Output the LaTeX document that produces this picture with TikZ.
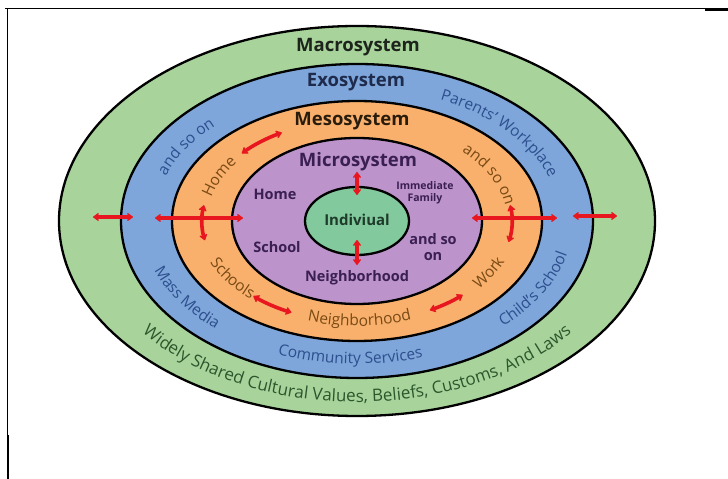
\documentclass[tikz,border=0pt]{standalone}
\usepackage{fontspec}
\setmainfont{Open Sans}
\usetikzlibrary{arrows.meta,decorations.text}
% ring fills
\definecolor{macroC}{HTML}{A8D49C}
\definecolor{exoC}{HTML}{7EA6DA}
\definecolor{mesoC}{HTML}{F8B06C}
\definecolor{microC}{HTML}{BC93CB}
\definecolor{indivC}{HTML}{82C99E}
% text colours
\definecolor{macroT}{HTML}{1C241C}
\definecolor{exoT}{HTML}{1E2B4C}
\definecolor{mesoT}{HTML}{2A1C0C}
\definecolor{microT}{HTML}{3A1F52}
\definecolor{indivT}{HTML}{1E3B2A}
\definecolor{exoLbl}{HTML}{2D4F8E}
\definecolor{mesoLbl}{HTML}{7A4A14}
\definecolor{macroLbl}{HTML}{2C562C}
\definecolor{arrowC}{HTML}{E8161E}
\newcommand{\bandfont}{\fontsize{15.5}{16}\selectfont}
\begin{document}
\begin{tikzpicture}[x=1pt,y=1pt,
  ring/.style={draw=black, line width=2.3pt},
  title/.style={font=\bfseries\fontsize{18.5}{19}\selectfont},
  innerlbl/.style={font=\bfseries\fontsize{14.5}{15}\selectfont, text=microT, align=center},
  link/.style={draw=arrowC, line width=3.6pt,
    {Stealth[round,length=7pt,width=10pt]}-{Stealth[round,length=7pt,width=10pt]}},
  curvelbl/.style={decorate, decoration={text along path, text align=center, text={#1}}},
]
\useasboundingbox (0,0) rectangle (728,479);

% page frame
\draw[line width=1pt] (5,470) -- (728,470);
\draw[line width=2.5pt] (705,469.5) -- (728,469.5);
\draw[line width=1pt] (7,470) -- (7,0);
\draw[line width=2pt] (7.5,44) -- (7.5,0);

% concentric systems
\coordinate (C) at (357,258);
\draw[ring, fill=macroC] (C) ellipse[x radius=298pt, y radius=195pt];
\draw[ring, fill=exoC]   (C) ellipse[x radius=236pt, y radius=157pt];
\draw[ring, fill=mesoC]  (C) ellipse[x radius=185pt, y radius=120pt];
\draw[ring, fill=microC] (C) ellipse[x radius=125pt, y radius=83pt];
\draw[ring, fill=indivC] (C) ellipse[x radius=52pt, y radius=34pt];

% system titles
\node[title, text=macroT] (macro) at (358,432) {Macrosystem};
\node[title, text=exoT]   (exo)   at (356,397) {Exosystem};
\node[title, text=mesoT]  (meso)  at (352,358) {Mesosystem};
\node[title, text=microT] (micro) at (358,317) {Microsystem};

% microsystem contents
\node[innerlbl] (mHome)   at (275,285) {Home};
\node[innerlbl] (mSchool) at (277,232) {School};
\node[innerlbl, font=\bfseries\fontsize{10.5}{12.5}\selectfont] (mFamily) at (425,286) {Immediate\\Family};
\node[innerlbl, font=\bfseries\fontsize{14.5}{15.5}\selectfont] (mMore) at (433,232) {and so\\on};
\node[innerlbl] (mNeigh)  at (357,201) {Neighborhood};
\node[font=\bfseries\fontsize{15}{16}\selectfont, text=indivT] (indiv) at (357,259) {Indiviual};

% exosystem labels along the band
\path[curvelbl={|\bandfont\color{exoLbl}|and so on}]
  (C) ++(175:203pt and 133pt) arc[start angle=175, end angle=123, x radius=203pt, y radius=133pt];
\path[curvelbl={|\bandfont\color{exoLbl}|Parents' Workplace}]
  (C) ++(76:203pt and 133pt) arc[start angle=76, end angle=4, x radius=203pt, y radius=133pt];
\path[curvelbl={|\bandfont\color{exoLbl}|Mass Media}]
  (C) ++(190:216pt and 143pt) arc[start angle=190, end angle=237, x radius=216pt, y radius=143pt];
\path[curvelbl={|\bandfont\color{exoLbl}|Community Services}]
  (C) ++(234:216pt and 143pt) arc[start angle=234, end angle=302, x radius=216pt, y radius=143pt];
\path[curvelbl={|\bandfont\color{exoLbl}|Child's School}]
  (C) ++(304:216pt and 143pt) arc[start angle=304, end angle=358, x radius=216pt, y radius=143pt];

% mesosystem labels along the band
\path[curvelbl={|\bandfont\color{mesoLbl}|Home}]
  (C) ++(170:150pt and 97pt) arc[start angle=170, end angle=140, x radius=150pt, y radius=97pt];
\path[curvelbl={|\bandfont\color{mesoLbl}|and so on}]
  (C) ++(53:150pt and 97pt) arc[start angle=53, end angle=-1, x radius=150pt, y radius=97pt];
\path[curvelbl={|\bandfont\color{mesoLbl}|Schools}]
  (C) ++(195:160pt and 105pt) arc[start angle=195, end angle=235, x radius=160pt, y radius=105pt];
\path[curvelbl={|\bandfont\color{mesoLbl}|Neighborhood}]
  (C) ++(240:160pt and 105pt) arc[start angle=240, end angle=302, x radius=160pt, y radius=105pt];
\path[curvelbl={|\bandfont\color{mesoLbl}|Work}]
  (C) ++(314:160pt and 105pt) arc[start angle=314, end angle=344, x radius=160pt, y radius=105pt];

% macrosystem label along the bottom
\path[curvelbl={|\fontsize{17}{18}\selectfont\color{macroLbl}|Widely Shared Cultural Values, Beliefs, Customs, And Laws}]
  (C) ++(198:273pt and 181pt) arc[start angle=198, end angle=342, x radius=273pt, y radius=181pt];

% interaction arrows
\coordinate (upA) at (357,307);  \coordinate (upB) at (357,284);
\coordinate (dnA) at (357,239);  \coordinate (dnB) at (357,214);
\coordinate (lfA) at (155,261);  \coordinate (lfB) at (243,261);
\coordinate (loA) at (93,262);   \coordinate (loB) at (133,262);
\coordinate (rtA) at (472,261);  \coordinate (rtB) at (557,261);
\coordinate (roA) at (573,263);  \coordinate (roB) at (617,263);
\draw[link] (upA) -- (upB);
\draw[link] (dnA) -- (dnB);
\draw[link] (lfA) -- (lfB);
\draw[link] (loA) -- (loB);
\draw[link] (rtA) -- (rtB);
\draw[link] (roA) -- (roB);

\path (C) ++(138:155pt and 101pt) coordinate (ulS);
\path (C) ++(228:155pt and 101pt) coordinate (llS);
\path (C) ++(298:155pt and 101pt) coordinate (lrS);
\path (C) ++(171:155pt and 101pt) coordinate (lvS);
\path (C) ++(9:155pt and 101pt)   coordinate (rvS);
\draw[link] (ulS) arc[start angle=138, end angle=119, x radius=155pt, y radius=101pt];
\draw[link] (llS) arc[start angle=228, end angle=245, x radius=155pt, y radius=101pt];
\draw[link] (lrS) arc[start angle=298, end angle=313, x radius=155pt, y radius=101pt];
\draw[link] (lvS) arc[start angle=171, end angle=191, x radius=155pt, y radius=101pt];
\draw[link] (rvS) arc[start angle=9, end angle=-12, x radius=155pt, y radius=101pt];
\end{tikzpicture}
\end{document}
